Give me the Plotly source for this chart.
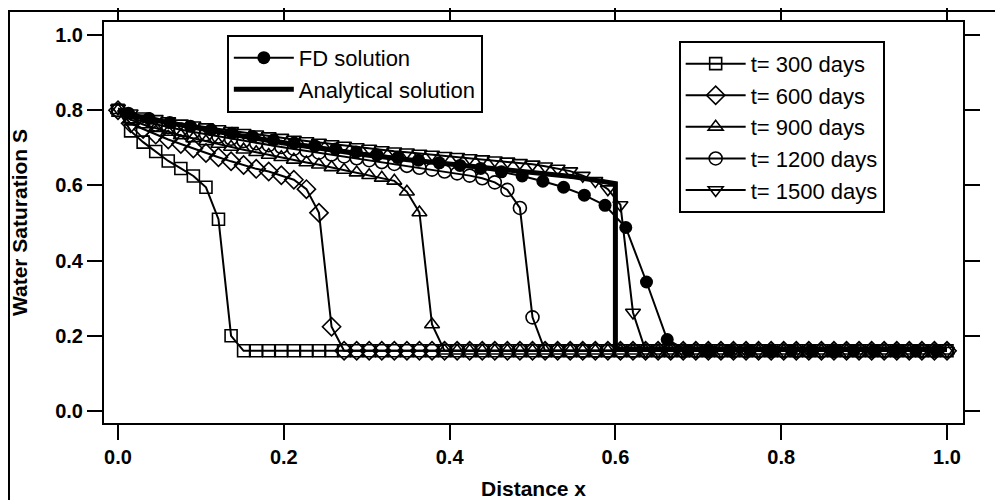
import plotly.graph_objects as go

# grid of the time-series solutions (x = i/66)
x_grid = [0.0, 0.0152, 0.0303, 0.0455, 0.0606, 0.0758, 0.0909, 0.1061, 0.1212, 0.1364,
          0.1515, 0.1667, 0.1818, 0.1970, 0.2121, 0.2273, 0.2424, 0.2576, 0.2727, 0.2879,
          0.3030, 0.3182, 0.3333, 0.3485, 0.3636, 0.3788, 0.3939, 0.4091, 0.4242, 0.4394,
          0.4545, 0.4697, 0.4848, 0.5000, 0.5152, 0.5303, 0.5455, 0.5606, 0.5758, 0.5909,
          0.6061, 0.6212, 0.6364, 0.6515, 0.6667, 0.6818, 0.6970, 0.7121, 0.7273, 0.7424,
          0.7576, 0.7727, 0.7879, 0.8030, 0.8182, 0.8333, 0.8485, 0.8636, 0.8788, 0.8939,
          0.9091, 0.9242, 0.9394, 0.9545, 0.9697, 0.9848, 1.0]

s_300 = [0.800, 0.745, 0.715, 0.690, 0.665, 0.645, 0.625, 0.595, 0.510, 0.200,
         0.16, 0.16, 0.16, 0.16, 0.16, 0.16, 0.16, 0.16, 0.16, 0.16,
         0.16, 0.16, 0.16, 0.16, 0.16, 0.16, 0.16, 0.16, 0.16, 0.16,
         0.16, 0.16, 0.16, 0.16, 0.16, 0.16, 0.16, 0.16, 0.16, 0.16,
         0.16, 0.16, 0.16, 0.16, 0.16, 0.16, 0.16, 0.16, 0.16, 0.16,
         0.16, 0.16, 0.16, 0.16, 0.16, 0.16, 0.16, 0.16, 0.16, 0.16,
         0.16, 0.16, 0.16, 0.16, 0.16, 0.16, 0.16]

s_600 = [0.800, 0.765, 0.750, 0.735, 0.722, 0.710, 0.698, 0.686, 0.675, 0.664,
         0.654, 0.644, 0.637, 0.627, 0.615, 0.590, 0.527, 0.224, 0.16, 0.16,
         0.16, 0.16, 0.16, 0.16, 0.16, 0.16, 0.16, 0.16, 0.16, 0.16,
         0.16, 0.16, 0.16, 0.16, 0.16, 0.16, 0.16, 0.16, 0.16, 0.16,
         0.16, 0.16, 0.16, 0.16, 0.16, 0.16, 0.16, 0.16, 0.16, 0.16,
         0.16, 0.16, 0.16, 0.16, 0.16, 0.16, 0.16, 0.16, 0.16, 0.16,
         0.16, 0.16, 0.16, 0.16, 0.16, 0.16, 0.16]

s_900 = [0.800, 0.775, 0.762, 0.752, 0.742, 0.733, 0.725, 0.717, 0.710, 0.702,
         0.695, 0.688, 0.681, 0.675, 0.668, 0.661, 0.655, 0.648, 0.641, 0.634,
         0.627, 0.620, 0.612, 0.583, 0.528, 0.230, 0.16, 0.16, 0.16, 0.16,
         0.16, 0.16, 0.16, 0.16, 0.16, 0.16, 0.16, 0.16, 0.16, 0.16,
         0.16, 0.16, 0.16, 0.16, 0.16, 0.16, 0.16, 0.16, 0.16, 0.16,
         0.16, 0.16, 0.16, 0.16, 0.16, 0.16, 0.16, 0.16, 0.16, 0.16,
         0.16, 0.16, 0.16, 0.16, 0.16, 0.16, 0.16]

s_1200 = [0.800, 0.780, 0.770, 0.762, 0.755, 0.748, 0.742, 0.736, 0.730, 0.724,
          0.718, 0.712, 0.707, 0.702, 0.697, 0.692, 0.687, 0.682, 0.677, 0.672,
          0.667, 0.662, 0.657, 0.652, 0.647, 0.642, 0.637, 0.632, 0.626, 0.619,
          0.608, 0.588, 0.540, 0.249, 0.16, 0.16, 0.16, 0.16, 0.16, 0.16,
          0.16, 0.16, 0.16, 0.16, 0.16, 0.16, 0.16, 0.16, 0.16, 0.16,
          0.16, 0.16, 0.16, 0.16, 0.16, 0.16, 0.16, 0.16, 0.16, 0.16,
          0.16, 0.16, 0.16, 0.16, 0.16, 0.16, 0.16]

s_1500 = [0.805, 0.792, 0.784, 0.777, 0.771, 0.765, 0.760, 0.755, 0.750, 0.745,
          0.740, 0.736, 0.731, 0.727, 0.722, 0.718, 0.714, 0.710, 0.706, 0.702,
          0.698, 0.694, 0.691, 0.688, 0.685, 0.682, 0.679, 0.676, 0.673, 0.670,
          0.667, 0.664, 0.660, 0.656, 0.651, 0.645, 0.638, 0.626, 0.612, 0.590,
          0.548, 0.262, 0.16, 0.16, 0.16, 0.16, 0.16, 0.16, 0.16, 0.16,
          0.16, 0.16, 0.16, 0.16, 0.16, 0.16, 0.16, 0.16, 0.16, 0.16,
          0.16, 0.16, 0.16, 0.16, 0.16, 0.16, 0.16]

# FD solution (cell centres, dx = 0.025)
x_fd = [0.0125, 0.0375, 0.0625, 0.0875, 0.1125, 0.1375, 0.1625, 0.1875, 0.2125, 0.2375,
        0.2625, 0.2875, 0.3125, 0.3375, 0.3625, 0.3875, 0.4125, 0.4375, 0.4625, 0.4875,
        0.5125, 0.5375, 0.5625, 0.5875, 0.6125, 0.6375, 0.6625, 0.6875, 0.7125, 0.7375,
        0.7625, 0.7875, 0.8125, 0.8375, 0.8625, 0.8875, 0.9125, 0.9375, 0.9625, 0.9875]
s_fd = [0.792, 0.778, 0.767, 0.757, 0.748, 0.739, 0.730, 0.721, 0.713, 0.705,
        0.697, 0.689, 0.681, 0.674, 0.667, 0.660, 0.653, 0.645, 0.636, 0.625,
        0.611, 0.595, 0.574, 0.547, 0.488, 0.343, 0.190, 0.16, 0.16, 0.16,
        0.16, 0.16, 0.16, 0.16, 0.16, 0.16, 0.16, 0.16, 0.16, 0.16]

# Analytical solution
x_an = [0.0, 0.025, 0.05, 0.1, 0.15, 0.2, 0.25, 0.3, 0.35, 0.4, 0.45, 0.5, 0.55, 0.6, 0.6, 1.0]
s_an = [0.800, 0.783, 0.771, 0.750, 0.731, 0.713, 0.696, 0.681, 0.668, 0.656, 0.645, 0.635,
        0.623, 0.605, 0.165, 0.165]

series_names = ["t= 300 days", "t= 600 days", "t= 900 days", "t= 1200 days", "t= 1500 days"]
series_vals = [s_300, s_600, s_900, s_1200, s_1500]
symbols = ["square-open", "diamond-open", "triangle-up-open", "circle-open", "triangle-down-open"]
sizes = [12, 14, 13, 13, 13]

FONT = "Liberation Sans, Arial, Helvetica, sans-serif"

fig = go.Figure()
for name, vals, sym, sz in zip(series_names, series_vals, symbols, sizes):
    fig.add_trace(go.Scatter(
        x=x_grid, y=vals, name=name, mode="lines+markers",
        line=dict(color="black", width=2),
        marker=dict(symbol=sym, size=sz, color="black", line=dict(color="black", width=1.6)),
        legend="legend2"))

fig.add_trace(go.Scatter(
    x=x_an, y=s_an, name="Analytical solution", mode="lines",
    line=dict(color="black", width=5), legend="legend", legendrank=2))
fig.add_trace(go.Scatter(
    x=x_fd, y=s_fd, name="FD solution", mode="lines+markers",
    line=dict(color="black", width=2),
    marker=dict(symbol="circle", size=13, color="black"),
    legend="legend", legendrank=1))

axis_common = dict(
    showline=True, linecolor="black", linewidth=2, mirror="ticks",
    ticks="outside", ticklen=15, tickwidth=2, tickcolor="black",
    showgrid=False, zeroline=False, automargin=False,
    tickfont=dict(family=FONT, size=20, color="black", weight="bold"),
)

fig.update_xaxes(range=[-0.0169, 1.0193], tickvals=[0, 0.2, 0.4, 0.6, 0.8, 1.0],
                 tickformat=".1f",
                 title=dict(text="Distance x", font=dict(family=FONT, size=21, color="black", weight="bold"),
                            standoff=14),
                 **axis_common)
fig.update_yaxes(range=[-0.032, 1.0346], tickvals=[0, 0.2, 0.4, 0.6, 0.8, 1.0],
                 tickformat=".1f",
                 title=dict(text="Water Saturation S", font=dict(family=FONT, size=21, color="black", weight="bold"),
                            standoff=30),
                 **axis_common)

legend_common = dict(
    xanchor="left", yanchor="top", bordercolor="black", borderwidth=2, bgcolor="white",
    font=dict(family=FONT, size=22, color="black"), itemwidth=60, tracegroupgap=0,
    traceorder="normal",
)
fig.update_layout(
    width=1003, height=500,
    margin=dict(l=96, r=48, t=14, b=85),
    paper_bgcolor="white", plot_bgcolor="white",
    showlegend=True,
    legend=dict(x=0.143, y=0.968, **legend_common),
    legend2=dict(x=0.669, y=0.953, **legend_common),
    shapes=[
        dict(type="line", xref="paper", yref="paper", x0=-0.12, x1=1.06, y0=1.0274, y1=1.0274,
             line=dict(color="black", width=2)),
        dict(type="line", xref="paper", yref="paper", x0=-0.1106, x1=-0.1106, y0=1.0274, y1=-0.25,
             line=dict(color="black", width=2)),
    ],
)

fig.write_html("out.html")
